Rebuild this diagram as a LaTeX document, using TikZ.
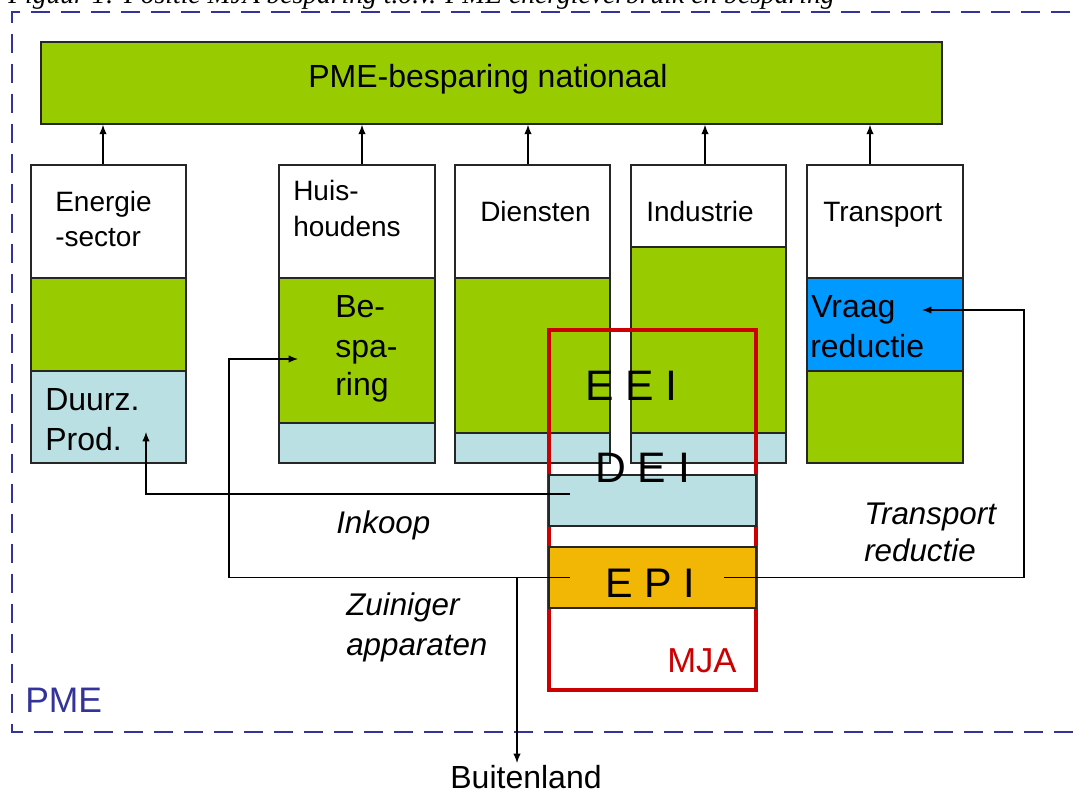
\documentclass[tikz,border=0pt]{standalone}
\usepackage{fontspec}
\setmainfont{Liberation Sans}
\newfontfamily\capfont{Liberation Serif}
\usetikzlibrary{arrows.meta,fit}
\definecolor{grn}{HTML}{99CC00}
\definecolor{lbl}{HTML}{BBE0E3}
\definecolor{sky}{HTML}{0099FF}
\definecolor{orn}{HTML}{F2B705}
\definecolor{mred}{HTML}{CC0000}
\definecolor{navy}{HTML}{333399}
\begin{document}
\begin{tikzpicture}[x=0.75pt,y=-0.75pt,
  seg/.style={draw=black!85,line width=1.1pt,inner sep=0pt},
  conn/.style={draw=black,line width=0.9pt},
  arr/.style={conn,-{Latex[length=7pt,width=5.5pt]}},
  lab/.style={inner sep=0pt,anchor=base west,font=\fontsize{21}{24}\selectfont},
  big/.style={inner sep=0pt,anchor=base west,font=\fontsize{24}{28}\selectfont},
  ital/.style={inner sep=0pt,anchor=base west,font=\fontsize{23.5}{27}\selectfont\itshape},
  huge/.style={inner sep=0pt,anchor=base west,font=\fontsize{32}{36}\selectfont}]
\useasboundingbox (0,0) rectangle (1075,793);
% caption (clipped at top, as in the reference)
\node[inner sep=0pt,anchor=base west,font=\capfont\fontsize{20.7}{24}\selectfont\itshape] (cap) at (8,3) {Figuur 1: Positie MJA besparing t.o.v. PME energieverbruik en besparing};
% dashed PME frame
\draw[navy,line width=2.2pt,dash pattern=on 14pt off 8.5pt] (1100,12) -- (12,12) -- (12,732) -- (1100,732);
\node[inner sep=0pt,anchor=base west,text=navy,font=\fontsize{26.6}{30}\selectfont] (pme) at (25,712) {PME};
% top box
\node[seg,fill=grn,fit={(41,42) (942,124)}] (top) {};
\node[inner sep=0pt,font=\fontsize{24}{28}\selectfont] (toptxt) at (488,79) {PME-besparing nationaal};
% Energie-sector
\node[seg,fill=white,fit={(31,165) (186,278)}] (e1) {};
\node[seg,fill=grn,fit={(31,278) (186,371)}] (e2) {};
\node[seg,fill=lbl,fit={(31,371) (186,463)}] (e3) {};
% Huishoudens
\node[seg,fill=white,fit={(279,165) (435,278)}] (h1) {};
\node[seg,fill=grn,fit={(279,278) (435,423)}] (h2) {};
\node[seg,fill=lbl,fit={(279,423) (435,463)}] (h3) {};
% Diensten
\node[seg,fill=white,fit={(455,165) (610,278)}] (d1) {};
\node[seg,fill=grn,fit={(455,278) (610,433)}] (d2) {};
\node[seg,fill=lbl,fit={(455,433) (610,463)}] (d3) {};
% Industrie
\node[seg,fill=white,fit={(631,165) (786,247)}] (i1) {};
\node[seg,fill=grn,fit={(631,247) (786,433)}] (i2) {};
\node[seg,fill=lbl,fit={(631,433) (786,463)}] (i3) {};
% Transport
\node[seg,fill=white,fit={(807,165) (963,278)}] (t1) {};
\node[seg,fill=sky,fit={(807,278) (963,371)}] (t2) {};
\node[seg,fill=grn,fit={(807,371) (963,463)}] (t3) {};
% column labels
\node[lab] (le1) at (55,211) {Energie};
\node[lab] (le2) at (55,246.5) {-sector};
\node[big] (ld1) at (45,410) {Duurz.};
\node[big] (ld2) at (45,450) {Prod.};
\node[lab] (lh1) at (293,200) {Huis-};
\node[lab] (lh2) at (293,236) {houdens};
\node[big] (lb1) at (335,317) {Be-};
\node[big] (lb2) at (335,357) {spa-};
\node[big] (lb3) at (335,395) {ring};
\node[lab] (ldi) at (480,221) {Diensten};
\node[lab] (lin) at (646,221) {Industrie};
\node[lab] (ltr) at (823,221) {Transport};
\node[big] (lv1) at (811,317) {Vraag};
\node[big] (lv2) at (810,357) {reductie};
% arrows to national box
\draw[arr] (103,0 |- e1.north) -- (103,0 |- top.south);
\draw[arr] (362,0 |- h1.north) -- (362,0 |- top.south);
\draw[arr] (528,0 |- d1.north) -- (528,0 |- top.south);
\draw[arr] (705,0 |- i1.north) -- (705,0 |- top.south);
\draw[arr] (870,0 |- t1.north) -- (870,0 |- top.south);
% MJA frame
\node[draw=mred,line width=2.3pt,inner sep=0pt,fit={(549,330) (756,690)}] (mja) {};
\node[inner sep=0pt,anchor=base west,text=mred,font=\fontsize{26}{30}\selectfont] (mjatxt) at (667,672) {MJA};
% DEI and EPI boxes
\node[seg,fill=lbl,fit={(549,475) (756,526)}] (dei) {};
\node[seg,fill=orn,fit={(549,547) (756,608)}] (epi) {};
\node[huge] (eeitxt) at (585,400) {E E I};
\node[huge] (deitxt) at (595,482) {D E I};
\node[huge,font=\fontsize{31}{35}\selectfont] (epitxt) at (605,597) {E P I};
% connectors
\coordinate (ink0) at (570,494);
\coordinate (dtip) at (146,432);
\draw[arr] (ink0) -| (dtip);
\coordinate (epiL) at (570,577.5);
\coordinate (btip) at (298,359);
\draw[arr] (epiL) -- (229,577.5) |- (btip);
\coordinate (epiR) at (724,577.5);
\coordinate (vtip) at (922,310);
\draw[arr] (epiR) -- (1024,577.5) |- (vtip);
\node[inner sep=0pt,anchor=base,font=\fontsize{24}{28}\selectfont] (buit) at (526,788) {Buitenland};
\coordinate (bj) at (517,577.5);
\coordinate (btip2) at (517,763);
\draw[arr] (bj) -- (btip2);
% italic labels
\node[ital] (inkoop) at (336,533) {Inkoop};
\node[ital] (tr1) at (864,524) {Transport};
\node[ital] (tr2) at (864,561) {reductie};
\node[ital] (zu1) at (346,615) {Zuiniger};
\node[ital] (zu2) at (346,655) {apparaten};
\end{tikzpicture}
\end{document}
